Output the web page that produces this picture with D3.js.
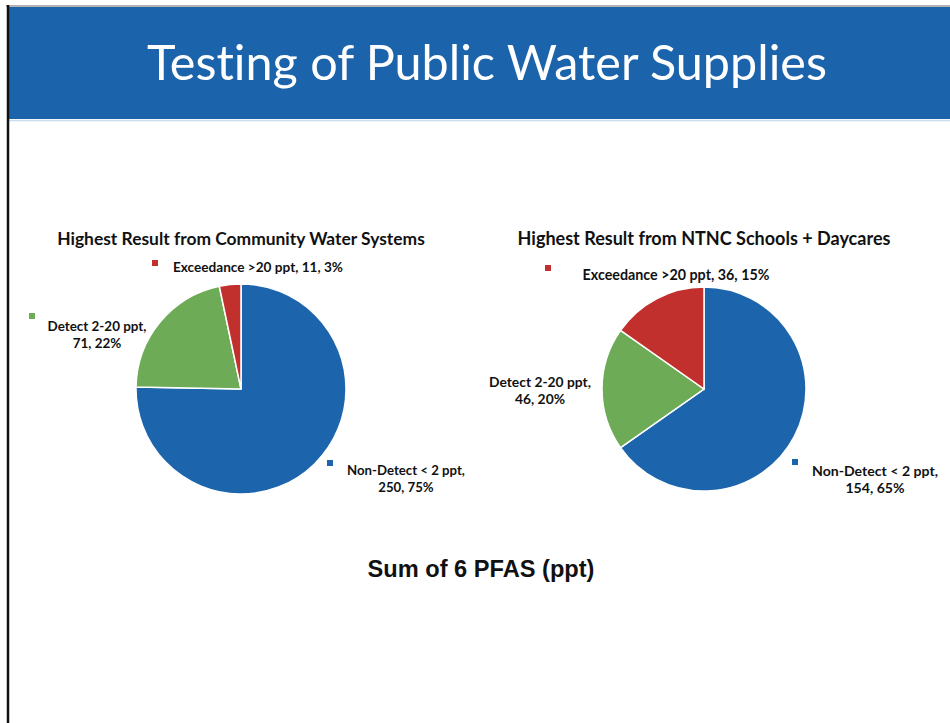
<!DOCTYPE html>
<html>
<head>
<meta charset="utf-8">
<script src="https://cdn.jsdelivr.net/npm/d3@7"></script>
<style>
  html, body { margin: 0; padding: 0; background: #fff; }
  svg { display: block; }
  text { font-variant-ligatures: none; }
</style>
</head>
<body>
<div id="chart"></div>
<script>
// Data
const categories = ["Non-Detect < 2 ppt", "Detect 2-20 ppt", "Exceedance >20 ppt"];
const communityCounts = [250, 71, 11];
const communityPcts = ["75%", "22%", "3%"];
const schoolCounts = [154, 46, 36];
const schoolPcts = ["65%", "20%", "15%"];
const colors = ["#1c64ab", "#6dab56", "#c2302e"];

const width = 950, height = 723;

const svg = d3.select("#chart")
  .append("svg")
  .attr("width", width)
  .attr("height", height);

// slide frame
svg.append("rect").attr("x", 0).attr("y", 0).attr("width", width).attr("height", height).attr("fill", "#fff");
svg.append("line").attr("x1", 6).attr("x2", width).attr("y1", 6).attr("y2", 6)
  .attr("stroke", "#9a9a9a").attr("stroke-width", 1.5);
svg.append("rect").attr("x", 9).attr("y", 7).attr("width", width - 9).attr("height", 112)
  .attr("fill", "#1b64ab");
svg.append("line").attr("x1", 9).attr("x2", width).attr("y1", 120.5).attr("y2", 120.5)
  .attr("stroke", "#c9dcee").attr("stroke-width", 1.5);
svg.append("line").attr("x1", 8).attr("x2", 8).attr("y1", 5).attr("y2", height)
  .attr("stroke", "#111").attr("stroke-width", 2.5);

// fit a text element's font size so it spans a target width
function fit(sel, target) {
  const node = sel.node();
  const fs = parseFloat(sel.attr("font-size"));
  const w = node.getComputedTextLength();
  sel.attr("font-size", (fs * target / w).toFixed(2));
  return sel;
}

// slide title
fit(svg.append("text")
  .attr("x", 487).attr("y", 80)
  .attr("text-anchor", "middle")
  .attr("font-family", "Lato, 'Open Sans', sans-serif")
  .attr("font-size", 44)
  .attr("fill", "#fff")
  .text("Testing of Public Water Supplies"), 680);

const labelFont = "Lato, 'Open Sans', sans-serif";

function drawPie(cfg) {
  const g = svg.append("g");

  fit(g.append("text")
    .attr("x", cfg.cx).attr("y", 245)
    .attr("text-anchor", "middle")
    .attr("font-family", labelFont)
    .attr("font-weight", "bold")
    .attr("font-size", 14)
    .attr("fill", "#111")
    .text(cfg.title), cfg.titleWidth);

  const pie = d3.pie().sort(null).value(d => d)(cfg.values);
  const arc = d3.arc().innerRadius(0).outerRadius(cfg.r);

  g.append("g")
    .attr("transform", `translate(${cfg.cx},${cfg.cy})`)
    .selectAll("path")
    .data(pie)
    .enter().append("path")
    .attr("d", arc)
    .attr("fill", (d, i) => colors[i])
    .attr("stroke", "#fff")
    .attr("stroke-width", 1.5);

  // data labels with legend key squares
  cfg.labels.forEach((lab, i) => {
    if (lab.key) {
      g.append("rect")
        .attr("x", lab.key[0] - 3).attr("y", lab.key[1] - 3)
        .attr("width", 6).attr("height", 6)
        .attr("fill", colors[i]);
    }
    let size = 12;
    lab.lines.forEach((ln, j) => {
      const t = g.append("text")
        .attr("x", lab.x).attr("y", lab.y + j * 17)
        .attr("text-anchor", "middle")
        .attr("font-family", labelFont)
        .attr("font-weight", "bold")
        .attr("font-size", size)
        .attr("fill", "#111")
        .text(ln);
      if (j === 0) {
        fit(t, lab.w);
        size = t.attr("font-size");
      }
    });
  });
}

function labelLines(i, counts, pcts, split) {
  const full = categories[i] + ", " + counts[i] + ", " + pcts[i];
  return split ? [categories[i] + ",", counts[i] + ", " + pcts[i]] : [full];
}

drawPie({
  title: "Highest Result from Community Water Systems",
  titleWidth: 368,
  cx: 241, cy: 389, r: 105,
  values: communityCounts,
  labels: [
    { lines: labelLines(0, communityCounts, communityPcts, true), x: 406, y: 475, w: 118, key: [330, 463] },
    { lines: labelLines(1, communityCounts, communityPcts, true), x: 97, y: 331, w: 99, key: [32, 316] },
    { lines: labelLines(2, communityCounts, communityPcts, false), x: 258, y: 272, w: 170, key: [155, 263] }
  ]
});

drawPie({
  title: "Highest Result from NTNC Schools + Daycares",
  titleWidth: 373,
  cx: 704, cy: 389, r: 102,
  values: schoolCounts,
  labels: [
    { lines: labelLines(0, schoolCounts, schoolPcts, true), x: 875, y: 476, w: 126, key: [795, 462] },
    { lines: labelLines(1, schoolCounts, schoolPcts, true), x: 540, y: 387, w: 102, key: null },
    { lines: labelLines(2, schoolCounts, schoolPcts, false), x: 676, y: 280, w: 187, key: [548, 268] }
  ]
});

// caption under the pies
fit(svg.append("text")
  .attr("x", 481).attr("y", 577)
  .attr("text-anchor", "middle")
  .attr("font-family", "'Liberation Sans', Arial, sans-serif")
  .attr("font-weight", "bold")
  .attr("font-size", 20)
  .attr("fill", "#111")
  .text("Sum of 6 PFAS (ppt)"), 227);
</script>
</body>
</html>
